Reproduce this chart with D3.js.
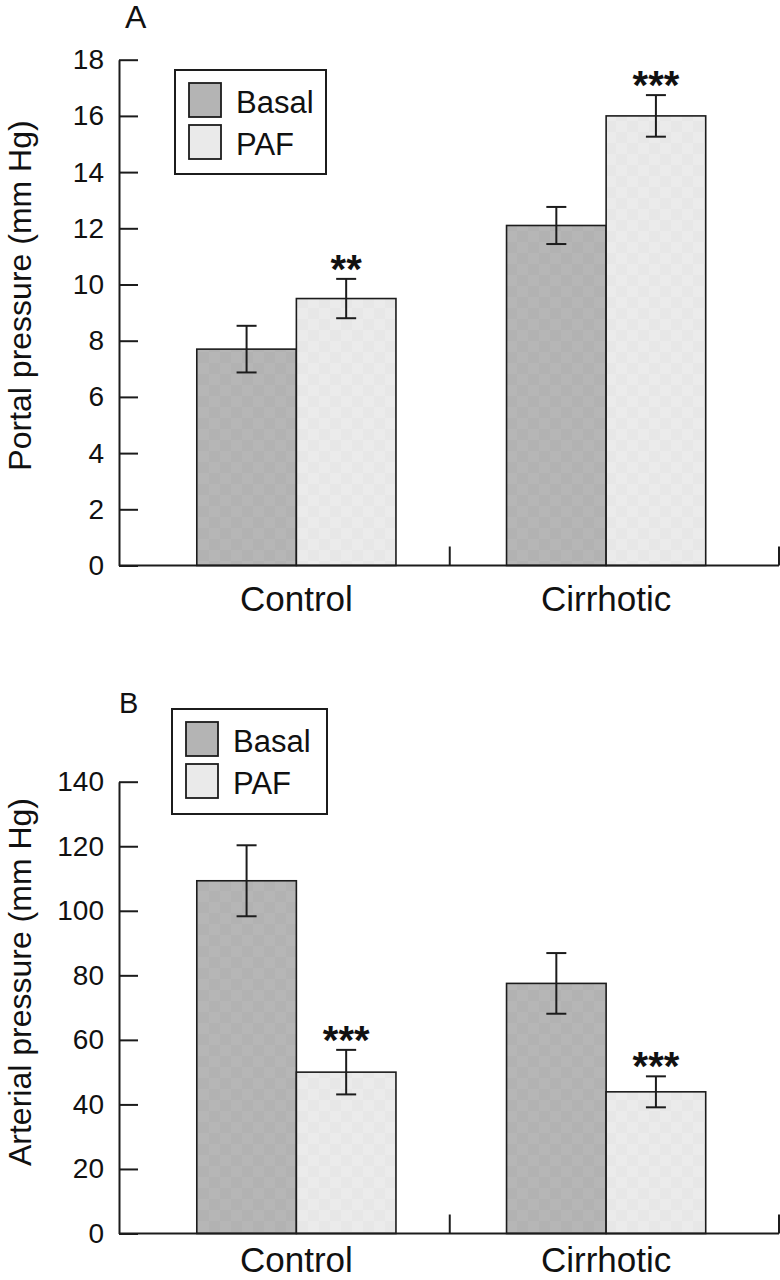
<!DOCTYPE html>
<html>
<head>
<meta charset="utf-8">
<script src="https://cdn.jsdelivr.net/npm/d3@7"></script>
<style>
  html, body { margin: 0; padding: 0; background: #fff; }
  svg { display: block; }
  text { font-family: "Liberation Sans", Arial, sans-serif; fill: #111; }
</style>
</head>
<body>
<svg id="chart" width="780" height="1280"></svg>
<script>
// ---------- data ----------
const categories = ["Control", "Cirrhotic"];
const seriesNames = ["Basal", "PAF"];

// Panel A: portal pressure (mm Hg)
const portalBasal    = [7.7, 12.1];
const portalBasalErr = [0.83, 0.66];
const portalPAF      = [9.5, 16.0];
const portalPAFErr   = [0.7, 0.74];
const portalPAFSig   = ["**", "***"];
const portalTicks    = [0, 2, 4, 6, 8, 10, 12, 14, 16, 18];

// Panel B: arterial pressure (mm Hg)
const arterialBasal    = [109.3, 77.5];
const arterialBasalErr = [11.0, 9.4];
const arterialPAF      = [50.0, 43.9];
const arterialPAFErr   = [6.9, 4.8];
const arterialPAFSig   = ["***", "***"];
const arterialTicks    = [0, 20, 40, 60, 80, 100, 120, 140];

// ---------- drawing ----------
const svg = d3.select("#chart");
const ink = "#1c1c1c";

// fill patterns (faint checker texture)
const defs = svg.append("defs");
function makePattern(id, base, alt) {
  const p = defs.append("pattern").attr("id", id)
    .attr("patternUnits", "userSpaceOnUse").attr("width", 22).attr("height", 22);
  p.append("rect").attr("width", 22).attr("height", 22).attr("fill", base);
  p.append("rect").attr("width", 11).attr("height", 11).attr("fill", alt);
  p.append("rect").attr("x", 11).attr("y", 11).attr("width", 11).attr("height", 11).attr("fill", alt);
}
makePattern("pat-basal", "#b6b6b6", "#b2b2b2");
makePattern("pat-paf", "#ebebeb", "#e7e7e7");
const fills = { Basal: "url(#pat-basal)", PAF: "url(#pat-paf)" };
const swatchFill = { Basal: "#b4b4b4", PAF: "#eaeaea" };

const axisLeftX = 119, axisRightX = 779;
const x0 = d3.scaleBand().domain(categories).range([141.5, 761]).paddingInner(0.357).paddingOuter(0.1785);
const x1 = d3.scaleBand().domain(seriesNames).range([0, x0.bandwidth()]);

function panel(cfg) {
  const g = svg.append("g");
  const y = d3.scaleLinear().domain(cfg.domain).range(cfg.range);

  // y axis
  const yAxis = d3.axisLeft(y).tickValues(cfg.ticks).tickSizeInner(-19).tickSizeOuter(0).tickPadding(15);
  const ya = g.append("g").attr("transform", `translate(${axisLeftX},0)`).call(yAxis);
  ya.select(".domain").attr("stroke", ink).attr("stroke-width", 2);
  ya.selectAll(".tick line").attr("stroke", ink).attr("stroke-width", 2);
  ya.selectAll(".tick text").attr("font-size", 28).attr("font-family", "Liberation Sans, Arial, sans-serif").attr("fill", "#111");

  // y label
  g.append("text").attr("transform", `translate(31,${cfg.labelY}) rotate(-90)`)
    .attr("text-anchor", "middle").attr("font-size", 32).text(cfg.yLabel);

  // bars
  const rows = [];
  categories.forEach((c, i) => {
    rows.push({ cat: c, s: "Basal", v: cfg.basal[i], e: cfg.basalErr[i], sig: "" });
    rows.push({ cat: c, s: "PAF", v: cfg.paf[i], e: cfg.pafErr[i], sig: cfg.sig[i] });
  });
  g.selectAll("rect.bar").data(rows).join("rect").attr("class", "bar")
    .attr("x", d => x0(d.cat) + x1(d.s))
    .attr("width", x1.bandwidth())
    .attr("y", d => y(d.v))
    .attr("height", d => y(0) - y(d.v))
    .attr("fill", d => fills[d.s])
    .attr("stroke", ink).attr("stroke-width", 1.6);

  // error bars
  const cx = d => x0(d.cat) + x1(d.s) + x1.bandwidth() / 2;
  const eg = g.append("g").attr("stroke", ink).attr("stroke-width", 2).attr("fill", "none");
  eg.selectAll("line.v").data(rows).join("line")
    .attr("x1", cx).attr("x2", cx).attr("y1", d => y(d.v + d.e)).attr("y2", d => y(d.v - d.e));
  eg.selectAll("line.t").data(rows).join("line")
    .attr("x1", d => cx(d) - 10).attr("x2", d => cx(d) + 10)
    .attr("y1", d => y(d.v + d.e)).attr("y2", d => y(d.v + d.e));
  eg.selectAll("line.b").data(rows).join("line")
    .attr("x1", d => cx(d) - 10).attr("x2", d => cx(d) + 10)
    .attr("y1", d => y(d.v - d.e)).attr("y2", d => y(d.v - d.e));

  // significance stars
  g.selectAll("text.sig").data(rows.filter(d => d.sig)).join("text").attr("class", "sig")
    .attr("x", cx).attr("y", d => y(d.v + d.e) - 19.5 + 0.58 * 40)
    .attr("text-anchor", "middle").attr("font-size", 40).attr("font-weight", "bold")
    .text(d => d.sig);

  // x axis
  const y0 = y(0);
  g.append("line").attr("x1", axisLeftX).attr("x2", axisRightX).attr("y1", y0).attr("y2", y0)
    .attr("stroke", ink).attr("stroke-width", 2);
  const midTick = (x0(categories[0]) + x0.bandwidth() + x0(categories[1])) / 2 - 1.5;
  [midTick, axisRightX].forEach(tx => {
    g.append("line").attr("x1", tx).attr("x2", tx).attr("y1", y0).attr("y2", y0 - 19)
      .attr("stroke", ink).attr("stroke-width", 2);
  });
  g.selectAll("text.cat").data(categories).join("text").attr("class", "cat")
    .attr("x", d => x0(d) + x0.bandwidth() / 2).attr("y", y0 + cfg.catOffset)
    .attr("text-anchor", "middle").attr("font-size", 35).text(d => d);

  // panel letter
  g.append("text").attr("x", cfg.letterX).attr("y", cfg.letterY).attr("font-size", cfg.letterSize).text(cfg.letter);

  // legend
  const L = cfg.legend;
  g.append("rect").attr("x", L.x).attr("y", L.y).attr("width", L.w).attr("height", L.h)
    .attr("fill", "#fff").attr("stroke", ink).attr("stroke-width", 2);
  seriesNames.forEach((s, i) => {
    const sy = L.y + 13 + i * 42;
    g.append("rect").attr("x", L.x + 14).attr("y", sy).attr("width", 32).attr("height", 34)
      .attr("fill", swatchFill[s]).attr("stroke", ink).attr("stroke-width", 1.8);
    g.append("text").attr("x", L.x + 61).attr("y", sy + 30).attr("font-size", 31).text(s);
  });
}

panel({
  domain: [0, 18], range: [565.5, 59.7], ticks: portalTicks,
  basal: portalBasal, basalErr: portalBasalErr, paf: portalPAF, pafErr: portalPAFErr, sig: portalPAFSig,
  yLabel: "Portal pressure (mm Hg)", labelY: 295.5, catOffset: 45,
  letter: "A", letterX: 125, letterY: 28, letterSize: 32,
  legend: { x: 175, y: 70, w: 151, h: 104 }
});

panel({
  domain: [0, 140], range: [1233.5, 781.7], ticks: arterialTicks,
  basal: arterialBasal, basalErr: arterialBasalErr, paf: arterialPAF, pafErr: arterialPAFErr, sig: arterialPAFSig,
  yLabel: "Arterial pressure (mm Hg)", labelY: 982, catOffset: 38,
  letter: "B", letterX: 119, letterY: 713, letterSize: 29,
  legend: { x: 172, y: 709, w: 155, h: 105 }
});
</script>
</body>
</html>
